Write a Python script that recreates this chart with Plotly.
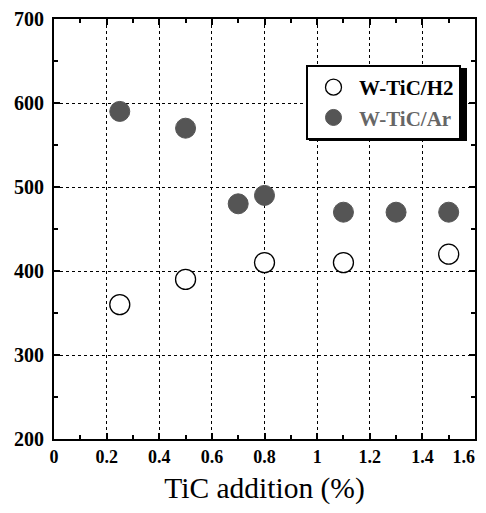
import plotly.graph_objects as go

h2_x = [0.25, 0.5, 0.8, 1.1, 1.5]
h2_y = [360, 390, 410, 410, 420]
ar_x = [0.25, 0.5, 0.7, 0.8, 1.1, 1.3, 1.5]
ar_y = [590, 570, 480, 490, 470, 470, 470]

x_ticks = [0, 0.2, 0.4, 0.6, 0.8, 1.0, 1.2, 1.4, 1.6]
x_labels = ["0", "0.2", "0.4", "0.6", "0.8", "1", "1.2", "1.4", "1.6"]
y_ticks = [200, 300, 400, 500, 600, 700]

SERIF = "Liberation Serif, DejaVu Serif, serif"

# the last label sits at the window edge; trailing no-break spaces pull it inside
x_text = x_labels[:-1] + [x_labels[-1] + "\u00a0" * 5]

fig = go.Figure()
fig.add_trace(go.Scatter(
    x=h2_x, y=h2_y, mode="markers", name="W-TiC/H2",
    marker=dict(size=20, color="white", line=dict(color="black", width=1.3)),
))
fig.add_trace(go.Scatter(
    x=ar_x, y=ar_y, mode="markers", name="<span style='color:#666666'>W-TiC/Ar</span>",
    marker=dict(size=20, color="#555555", line=dict(color="#555555", width=1)),
))

axis_common = dict(
    showline=True, linecolor="black", linewidth=2, mirror="allticks",
    ticks="inside", ticklen=6, tickwidth=1.5, tickcolor="black",
    showgrid=True, gridcolor="black", gridwidth=1, griddash="dot",
    zeroline=False, automargin=False, ticklabeloverflow="allow",
)

fig.update_xaxes(
    range=[0, 1.6], tickvals=x_ticks, ticktext=x_text,
    minor=dict(dtick=0.1, ticks="inside", ticklen=4, tickcolor="black", showgrid=False),
    title=dict(text="TiC addition (%)", font=dict(family=SERIF, size=29.5, color="black")),
    tickfont=dict(family=SERIF, size=18, color="black", weight="bold"),
    **axis_common,
)
fig.update_yaxes(
    range=[200, 700], tickvals=y_ticks,
    minor=dict(dtick=50, ticks="inside", ticklen=4, tickcolor="black", showgrid=False),
    tickfont=dict(family=SERIF, size=20, color="black", weight="bold"),
    ticklabelstandoff=4,
    **axis_common,
)

# page offset of the figure div (default body margin)
OFF = 8
# plot area in page pixels
L, T, W, H = 54, 19, 421, 420
FIG_W, FIG_H = 486 - OFF, 513 - 2 * OFF

def px_x(p):
    return (p - L) / W
def px_y(p):
    return 1 - (p - T) / H

fig.add_shape(type="rect", xref="paper", yref="paper",
              x0=px_x(309), x1=px_x(467), y0=px_y(141), y1=px_y(68),
              fillcolor="black", line=dict(width=0), layer="above")

fig.update_layout(
    width=FIG_W, height=FIG_H,
    margin=dict(l=L - OFF, r=FIG_W - (L - OFF) - W, t=T - OFF, b=FIG_H - (T - OFF) - H),
    paper_bgcolor="white", plot_bgcolor="white",
    showlegend=True,
    legend=dict(
        x=px_x(306), y=px_y(65), xanchor="left", yanchor="top",
        bgcolor="white", bordercolor="black", borderwidth=2,
        font=dict(family=SERIF, size=21, color="black", weight="bold"),
        itemsizing="trace", itemwidth=41,
    ),
)

fig.write_html("out.html")
